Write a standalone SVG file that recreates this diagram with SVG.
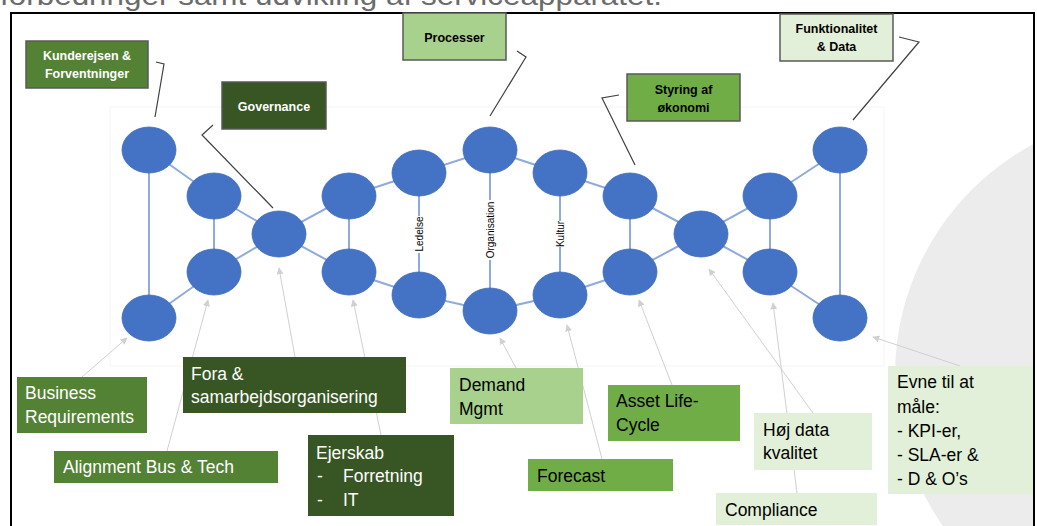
<svg xmlns="http://www.w3.org/2000/svg" width="1037" height="526" viewBox="0 0 1037 526">
<defs>
<style>
.title{font-family:"Liberation Sans",Arial,sans-serif;font-size:27px;fill:#6B6B6B}
.node{fill:#4472C4;stroke:#3E6BBE;stroke-width:0.8}
.strand{stroke:#8FAADC;stroke-width:2;fill:none}
.call{stroke:#404040;stroke-width:1.2;fill:none}
.arr{stroke:#D0D0D0;stroke-width:1;fill:none;marker-end:url(#ah)}
.tb{stroke:#595959;stroke-width:1.5}
.tl{font-family:"Liberation Sans",Arial,sans-serif;font-size:12.5px;font-weight:bold;text-anchor:middle}
.bl{font-family:"Liberation Sans",Arial,sans-serif;font-size:17.5px}
.rung{font-family:"Liberation Sans",Arial,sans-serif;font-size:10px;fill:#000;text-anchor:middle}
.w{fill:#FFFFFF}
.k{fill:#000000}
.g1{fill:#548235}
.g2{fill:#375623}
.g3{fill:#A9D18E}
.g4{fill:#70AD47}
.g5{fill:#E2F0D9}
</style>
<marker id="ah" viewBox="0 0 10 10" refX="9" refY="5" markerWidth="7" markerHeight="7" orient="auto" markerUnits="userSpaceOnUse">
<path d="M0,0 L10,5 L0,10 z" fill="#D0D0D0"/>
</marker>
<clipPath id="fr"><rect x="11" y="13" width="1023" height="520"/></clipPath>
</defs>
<rect x="0" y="0" width="1037" height="526" fill="#FFFFFF"/>
<text class="title" x="0" y="5" textLength="662" lengthAdjust="spacingAndGlyphs">forbedringer samt udvikling af serviceapparatet.</text>
<circle cx="1157" cy="375" r="262" fill="#EDECED" clip-path="url(#fr)"/>
<rect x="110" y="107" width="774" height="259" fill="none" stroke="#F5F5F5" stroke-width="1"/>
<rect x="11" y="13" width="1023" height="530" fill="none" stroke="#000" stroke-width="2"/>

<g id="connectors">
<polyline class="strand" points="149,150 214,196 279,234 349,272 419,295 490,311 560,295 630,272 701,234 770,196 840,150"/>
<polyline class="strand" points="149,318 214,272 279,234 349,196 419,173 490,150 560,173 630,196 701,234 770,272 840,318"/>
<line class="strand" x1="149" y1="150" x2="149" y2="318"/>
<line class="strand" x1="214" y1="196" x2="214" y2="272"/>
<line class="strand" x1="349" y1="196" x2="349" y2="272"/>
<line class="strand" x1="419" y1="173" x2="419" y2="295"/>
<line class="strand" x1="490" y1="150" x2="490" y2="311"/>
<line class="strand" x1="560" y1="173" x2="560" y2="295"/>
<line class="strand" x1="630" y1="196" x2="630" y2="272"/>
<line class="strand" x1="770" y1="196" x2="770" y2="272"/>
<line class="strand" x1="840" y1="150" x2="840" y2="318"/>
<rect x="413" y="216" width="12" height="37" fill="#FFFFFF"/>
<text class="rung" transform="translate(423,234) rotate(-90)">Ledelse</text>
<rect x="484" y="200" width="12" height="60" fill="#FFFFFF"/>
<text class="rung" transform="translate(494,230) rotate(-90)">Organisation</text>
<rect x="554" y="221" width="12" height="26" fill="#FFFFFF"/>
<text class="rung" transform="translate(564,234) rotate(-90)">Kultur</text>
<polyline class="call" points="156,62 164,64 155,117"/>
<polyline class="call" points="213,125 202,135 273,208"/>
<polyline class="call" points="517,51 526,57 490,116"/>
<polyline class="call" points="619,95 602,98 635,165"/>
<polyline class="call" points="899,37 919,42 853,120"/>
<line class="arr" x1="82" y1="377" x2="127" y2="338"/>
<line class="arr" x1="167" y1="451" x2="208" y2="300"/>
<line class="arr" x1="295" y1="357" x2="279" y2="268"/>
<line class="arr" x1="381" y1="435" x2="353" y2="300"/>
<line class="arr" x1="516" y1="368" x2="500" y2="338"/>
<line class="arr" x1="602" y1="459" x2="567" y2="325"/>
<line class="arr" x1="672" y1="385" x2="639" y2="300"/>
<line class="arr" x1="813" y1="413" x2="709" y2="269"/>
<line class="arr" x1="797" y1="493" x2="773" y2="303"/>
<line class="arr" x1="960" y1="366" x2="873" y2="337"/>
</g>

<g id="n1"><ellipse class="node" cx="149" cy="150" rx="27" ry="23"/></g>
<g id="n2"><ellipse class="node" cx="149" cy="318" rx="27" ry="23"/></g>
<g id="n3"><ellipse class="node" cx="214" cy="196" rx="27" ry="23"/></g>
<g id="n4"><ellipse class="node" cx="214" cy="272" rx="27" ry="23"/></g>
<g id="n5"><ellipse class="node" cx="279" cy="234" rx="27" ry="23"/></g>
<g id="n6"><ellipse class="node" cx="349" cy="196" rx="27" ry="23"/></g>
<g id="n7"><ellipse class="node" cx="349" cy="272" rx="27" ry="23"/></g>
<g id="n8"><ellipse class="node" cx="419" cy="173" rx="27" ry="23"/></g>
<g id="n9"><ellipse class="node" cx="419" cy="295" rx="27" ry="23"/></g>
<g id="n10"><ellipse class="node" cx="490" cy="150" rx="27" ry="23"/></g>
<g id="n11"><ellipse class="node" cx="490" cy="311" rx="27" ry="23"/></g>
<g id="n12"><ellipse class="node" cx="560" cy="173" rx="27" ry="23"/></g>
<g id="n13"><ellipse class="node" cx="560" cy="295" rx="27" ry="23"/></g>
<g id="n14"><ellipse class="node" cx="630" cy="196" rx="27" ry="23"/></g>
<g id="n15"><ellipse class="node" cx="630" cy="272" rx="27" ry="23"/></g>
<g id="n16"><ellipse class="node" cx="701" cy="234" rx="27" ry="23"/></g>
<g id="n17"><ellipse class="node" cx="770" cy="196" rx="27" ry="23"/></g>
<g id="n18"><ellipse class="node" cx="770" cy="272" rx="27" ry="23"/></g>
<g id="n19"><ellipse class="node" cx="840" cy="150" rx="27" ry="23"/></g>
<g id="n20"><ellipse class="node" cx="840" cy="318" rx="27" ry="23"/></g>

<g id="kunderejsen"><rect class="g1 tb" x="26" y="41" width="122" height="47"/>
<text class="tl w" x="87" y="59.5">Kunderejsen &amp;</text><text class="tl w" x="87" y="77.5">Forventninger</text></g>
<g id="governance"><rect class="g2 tb" x="222" y="82" width="104" height="47"/>
<text class="tl w" x="274" y="110.5">Governance</text></g>
<g id="processer"><rect class="g3 tb" x="403" y="13" width="103" height="47"/>
<text class="tl k" x="454.5" y="41.5">Processer</text></g>
<g id="styring"><rect class="g4 tb" x="627" y="74" width="113" height="47"/>
<text class="tl k" x="683.5" y="93.5">Styring af</text><text class="tl k" x="683.5" y="111.5">økonomi</text></g>
<g id="funktionalitet"><rect class="g5 tb" x="780" y="14" width="113" height="47"/>
<text class="tl k" x="836.5" y="32.5">Funktionalitet</text><text class="tl k" x="836.5" y="51">&amp; Data</text></g>

<g id="business"><rect class="g1" x="17" y="377" width="130" height="56"/>
<text class="bl w" x="25" y="399">Business</text><text class="bl w" x="25" y="423">Requirements</text></g>
<g id="fora"><rect class="g2" x="183" y="357" width="223" height="56"/>
<text class="bl w" x="191" y="380">Fora &amp;</text><text class="bl w" x="191" y="403">samarbejdsorganisering</text></g>
<g id="alignment"><rect class="g1" x="54" y="451" width="224" height="32"/>
<text class="bl w" x="63" y="473">Alignment Bus &amp; Tech</text></g>
<g id="ejerskab"><rect class="g2" x="308" y="435" width="146" height="81"/>
<text class="bl w" x="316" y="459">Ejerskab</text>
<text class="bl w" x="317" y="482">-</text><text class="bl w" x="343" y="482">Forretning</text>
<text class="bl w" x="317" y="506">-</text><text class="bl w" x="343" y="506">IT</text></g>
<g id="demand"><rect class="g3" x="450" y="368" width="133" height="56"/>
<text class="bl k" x="459" y="391">Demand</text><text class="bl k" x="459" y="415">Mgmt</text></g>
<g id="forecast"><rect class="g4" x="528" y="459" width="145" height="32"/>
<text class="bl k" x="537" y="482">Forecast</text></g>
<g id="asset"><rect class="g4" x="608" y="385" width="132" height="56"/>
<text class="bl k" x="616" y="407">Asset Life-</text><text class="bl k" x="616" y="431">Cycle</text></g>
<g id="hoejdata"><rect class="g5" x="754" y="413" width="118" height="57"/>
<text class="bl k" x="763" y="436">Høj data</text><text class="bl k" x="763" y="459">kvalitet</text></g>
<g id="compliance"><rect class="g5" x="716" y="493" width="161" height="32"/>
<text class="bl k" x="725" y="516">Compliance</text></g>
<g id="evne"><rect class="g5" x="888" y="366" width="145" height="128"/>
<text class="bl k" x="897" y="388">Evne til at</text>
<text class="bl k" x="897" y="412.5">måle:</text>
<text class="bl k" x="897" y="437">- KPI-er,</text>
<text class="bl k" x="897" y="461">- SLA-er &amp;</text>
<text class="bl k" x="897" y="485">- D &amp; O’s</text></g>
</svg>
